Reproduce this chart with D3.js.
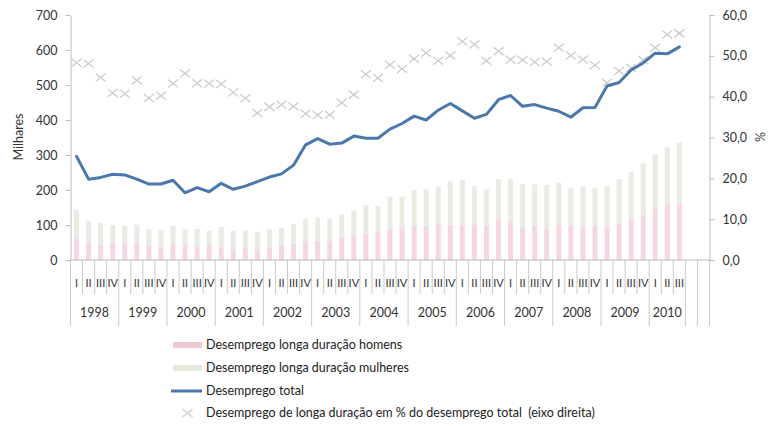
<!DOCTYPE html>
<html>
<head>
<meta charset="utf-8">
<script src="https://cdn.jsdelivr.net/npm/d3@7"></script>
<style>
  html, body { margin: 0; padding: 0; background: #fff; }
  svg { display: block; font-family: Lato, "Open Sans", sans-serif; }
</style>
</head>
<body>
<svg id="chart" width="772" height="426"></svg>
<script>
// Long-term unemployment in Portugal, quarterly 1998–2010 (thousands / % of total)
const years = ["1998","1999","2000","2001","2002","2003","2004","2005","2006","2007","2008","2009","2010"];
const quarters = ["I","II","III","IV"];
const emptySlots = 2; // blank categories after the last quarter

// Long-term unemployed men (thousands)
const homens = [60,50,42,46,50,50,42,34,49,42,39,43,38,32,34,31,36,42,46,54,55,54,63,70,76,82,
                90,92,97,98,100,101,101,100,98,116,108,95,98,90,100,98,95,98,95,105,114,129,148,157,159];
// Long-term unemployed total bar height (thousands); women = total - men
const longaTotal = [143,112,106,100,97,101,88,86,97,89,89,84,94,84,84,81,87,92,103,118,121,119,130,141,157,154,
                    181,181,200,202,210,224,229,211,202,231,231,216,216,214,221,205,211,207,212,231,252,276,303,322,336];
const mulheres = longaTotal.map((t, i) => t - homens[i]);
// Total unemployment (thousands)
const total = [296,231,236,245,243,231,217,217,228,192,207,195,219,202,211,224,237,246,271,329,347,331,334,354,348,348,
               374,390,411,400,428,447,426,405,416,458,470,439,444,434,425,408,435,436,497,507,543,563,591,589,609];
// Long-term unemployment as % of total (right axis)
const pctLonga = [48.3,48.1,44.7,40.9,40.7,44.0,39.7,40.2,43.2,45.7,43.3,43.2,43.1,41.0,39.6,36.0,37.5,38.0,37.6,35.8,35.5,35.6,38.5,40.5,45.5,44.6,
                  47.8,46.8,49.3,50.7,48.8,50.1,53.5,52.8,48.8,51.1,49.1,49.0,48.5,48.6,52.0,50.1,49.1,47.7,43.4,46.3,47.0,49.0,52.0,55.2,55.5];

const leftTicks = [0,100,200,300,400,500,600,700];
const rightTicks = [0,10,20,30,40,50,60];

const legendLabels = [
  "Desemprego longa duração homens",
  "Desemprego longa duração mulheres",
  "Desemprego total",
  "Desemprego de longa duração em % do desemprego total  (eixo direita)"
];

// ---- categories ----
const data = homens.map((h, i) => ({
  key: years[Math.floor(i / 4)] + "-" + quarters[i % 4],
  year: years[Math.floor(i / 4)],
  q: quarters[i % 4],
  homens: h, mulheres: mulheres[i], total: total[i], pct: pctLonga[i]
}));
const blanks = d3.range(emptySlots).map(i => "blank" + i);
const keys = data.map(d => d.key).concat(blanks);

// ---- layout ----
const plot = { left: 70.5, right: 709.5, top: 15, bottom: 260 };
const qTickEnd = 294, yTickEnd = 326;
const axisColor = "#bcbcbc";
const textColor = "#333";

const svg = d3.select("#chart");
const x = d3.scaleBand().domain(keys).range([plot.left, plot.right]).padding(0);
const yL = d3.scaleLinear().domain([0, 700]).range([plot.bottom, plot.top]);
const yR = d3.scaleLinear().domain([0, 60]).range([plot.bottom, plot.top]);
const locale = d3.formatLocale({ decimal: ",", thousands: ".", grouping: [3], currency: ["", "€"] });
const fmtR = locale.format(".1f");

const barW = 5;
const pink = "#f3d8df", grey = "#eaece4";

// ---- stacked bars ----
const stack = d3.stack().keys(["homens", "mulheres"])(data);
const fills = { homens: pink, mulheres: grey };
svg.append("g").selectAll("g").data(stack).join("g")
  .attr("fill", s => fills[s.key])
  .selectAll("rect").data(s => s).join("rect")
  .attr("x", d => x(d.data.key) + x.bandwidth() / 2 - barW / 2)
  .attr("width", barW)
  .attr("y", d => yL(d[1]))
  .attr("height", d => yL(d[0]) - yL(d[1]));

// ---- left axis ----
const gL = svg.append("g").attr("transform", `translate(${plot.left},0)`)
  .call(d3.axisLeft(yL).tickValues(leftTicks).tickSize(5).tickPadding(8).tickSizeOuter(0));
gL.select(".domain").attr("stroke", axisColor);
gL.selectAll(".tick line").attr("stroke", axisColor);
gL.selectAll(".tick text").attr("fill", textColor).style("font-size", "12.5px").style("font-family", "Lato, sans-serif");

// ---- right axis ----
const gR = svg.append("g").attr("transform", `translate(${plot.right},0)`)
  .call(d3.axisRight(yR).tickValues(rightTicks).tickFormat(fmtR).tickSize(5).tickPadding(8).tickSizeOuter(0));
gR.select(".domain").attr("stroke", axisColor);
gR.selectAll(".tick line").attr("stroke", axisColor);
gR.selectAll(".tick text").attr("fill", textColor).style("font-size", "12.5px").style("font-family", "Lato, sans-serif");

// ---- category axis (quarters + years) ----
const gX = svg.append("g");
gX.append("line").attr("x1", plot.left).attr("x2", plot.right)
  .attr("y1", plot.bottom).attr("y2", plot.bottom).attr("stroke", axisColor);
keys.forEach((k, i) => {
  const isYearStart = i % 4 === 0 || i >= data.length;
  gX.append("line")
    .attr("x1", x(k)).attr("x2", x(k))
    .attr("y1", plot.bottom).attr("y2", isYearStart ? yTickEnd : qTickEnd)
    .attr("stroke", axisColor).attr("stroke-width", 0.8);
});
gX.append("line").attr("x1", plot.right).attr("x2", plot.right)
  .attr("y1", plot.bottom).attr("y2", yTickEnd).attr("stroke", axisColor).attr("stroke-width", 0.8);

gX.selectAll("text.q").data(data).join("text")
  .attr("class", "q")
  .attr("x", d => x(d.key) + x.bandwidth() / 2)
  .attr("y", 287)
  .attr("text-anchor", "middle")
  .attr("fill", textColor)
  .style("font-size", "11px")
  .text(d => d.q);

const yearGroups = d3.groups(data, d => d.year);
gX.selectAll("text.yr").data(yearGroups).join("text")
  .attr("class", "yr")
  .attr("x", g => {
    const first = g[1][0].key, last = g[1][g[1].length - 1].key;
    return (x(first) + x(last) + x.bandwidth()) / 2;
  })
  .attr("y", 317)
  .attr("text-anchor", "middle")
  .attr("fill", textColor)
  .style("font-size", "12.5px")
  .text(g => g[0]);

// ---- axis titles ----
svg.append("text").attr("transform", "translate(23,137) rotate(-90)")
  .attr("text-anchor", "middle").attr("fill", textColor).style("font-size", "12.5px").text("Milhares");
svg.append("text").attr("transform", "translate(765,137) rotate(-90)")
  .attr("text-anchor", "middle").attr("fill", textColor).style("font-size", "12.5px").text("%");

// ---- % markers (right axis) ----
const xMark = (cx, cy, r) => `M${cx - r},${cy - r * 0.8}L${cx + r},${cy + r * 0.8}M${cx - r},${cy + r * 0.8}L${cx + r},${cy - r * 0.8}`;
const markColor = "#cccccc";
svg.append("g").selectAll("path").data(data).join("path")
  .attr("d", d => xMark(x(d.key) + x.bandwidth() / 2, yR(d.pct), 5))
  .attr("stroke", markColor).attr("stroke-width", 1.3).attr("fill", "none");

// ---- total unemployment line ----
const line = d3.line().x(d => x(d.key) + x.bandwidth() / 2).y(d => yL(d.total));
svg.append("path").datum(data).attr("d", line)
  .attr("fill", "none").attr("stroke", "#4a78ab").attr("stroke-width", 3)
  .attr("stroke-linejoin", "round").attr("stroke-linecap", "round");

// ---- legend ----
const lg = svg.append("g");
const lx = 173, lw = 29, tx = 206;
const ly = [345, 368, 391, 413];
lg.append("rect").attr("x", lx).attr("y", ly[0] - 3).attr("width", lw).attr("height", 6).attr("fill", "#f1c9d3");
lg.append("rect").attr("x", lx).attr("y", ly[1] - 3).attr("width", lw).attr("height", 6).attr("fill", "#e5e8de");
lg.append("line").attr("x1", lx - 2).attr("x2", lx + lw).attr("y1", ly[2]).attr("y2", ly[2])
  .attr("stroke", "#4a78ab").attr("stroke-width", 3);
lg.append("path").attr("d", xMark(lx + lw / 2, ly[3], 5)).attr("stroke", markColor).attr("stroke-width", 1.3).attr("fill", "none");
lg.selectAll("text").data(legendLabels).join("text")
  .attr("x", tx).attr("y", (d, i) => ly[i])
  .attr("dy", "0.35em")
  .attr("fill", "#222")
  .style("font-size", "12.5px")
  .style("white-space", "pre")
  .text(d => d);
</script>
</body>
</html>
